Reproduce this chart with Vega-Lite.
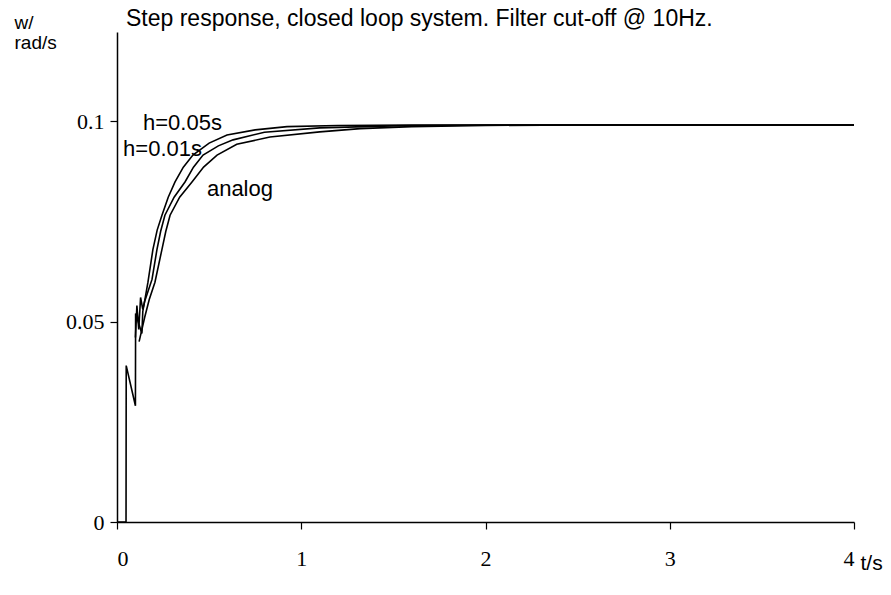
{
  "$schema": "https://vega.github.io/schema/vega-lite/v6.json",
  "autosize": {"type": "none"},
  "width": 737,
  "height": 490,
  "padding": {"left": 117, "top": 32, "right": 37, "bottom": 73},
  "background": "white",
  "title": {
    "text": "Step response, closed loop system. Filter cut-off @ 10Hz.",
    "anchor": "start",
    "frame": "group",
    "dx": 9,
    "offset": -18,
    "font": "Liberation Sans",
    "fontSize": 23,
    "fontWeight": "normal",
    "color": "black"
  },
  "config": {
    "view": {"stroke": null},
    "axis": {"grid": false, "domainColor": "black", "tickColor": "black", "labelColor": "black", "titleColor": "black", "domainWidth": 1.5, "tickWidth": 1.2, "tickSize": 7}
  },
  "datasets": {
    "curves": [
      {"series": "h=0.05s", "i": 0, "t": 0, "w": 0},
      {"series": "h=0.05s", "i": 1, "t": 0.049, "w": 0},
      {"series": "h=0.05s", "i": 2, "t": 0.05, "w": 0.039},
      {"series": "h=0.05s", "i": 3, "t": 0.1, "w": 0.029},
      {"series": "h=0.05s", "i": 4, "t": 0.101, "w": 0.052},
      {"series": "h=0.05s", "i": 5, "t": 0.135, "w": 0.047},
      {"series": "h=0.05s", "i": 6, "t": 0.14, "w": 0.0525},
      {"series": "h=0.05s", "i": 7, "t": 0.168, "w": 0.0598},
      {"series": "h=0.05s", "i": 8, "t": 0.195, "w": 0.068},
      {"series": "h=0.05s", "i": 9, "t": 0.218, "w": 0.0728},
      {"series": "h=0.05s", "i": 10, "t": 0.244, "w": 0.0765},
      {"series": "h=0.05s", "i": 11, "t": 0.278, "w": 0.081},
      {"series": "h=0.05s", "i": 12, "t": 0.315, "w": 0.0848},
      {"series": "h=0.05s", "i": 13, "t": 0.36, "w": 0.0885},
      {"series": "h=0.05s", "i": 14, "t": 0.412, "w": 0.0915},
      {"series": "h=0.05s", "i": 15, "t": 0.5, "w": 0.0945},
      {"series": "h=0.05s", "i": 16, "t": 0.597, "w": 0.0965},
      {"series": "h=0.05s", "i": 17, "t": 0.75, "w": 0.0978},
      {"series": "h=0.05s", "i": 18, "t": 0.923, "w": 0.0986},
      {"series": "h=0.05s", "i": 19, "t": 1.2, "w": 0.0989},
      {"series": "h=0.05s", "i": 20, "t": 1.6, "w": 0.099},
      {"series": "h=0.05s", "i": 21, "t": 4, "w": 0.099},
      {"series": "h=0.01s", "i": 0, "t": 0.1, "w": 0.046},
      {"series": "h=0.01s", "i": 1, "t": 0.108, "w": 0.054},
      {"series": "h=0.01s", "i": 2, "t": 0.118, "w": 0.048},
      {"series": "h=0.01s", "i": 3, "t": 0.128, "w": 0.056},
      {"series": "h=0.01s", "i": 4, "t": 0.14, "w": 0.053},
      {"series": "h=0.01s", "i": 5, "t": 0.15, "w": 0.055},
      {"series": "h=0.01s", "i": 6, "t": 0.19, "w": 0.0605},
      {"series": "h=0.01s", "i": 7, "t": 0.217, "w": 0.068},
      {"series": "h=0.01s", "i": 8, "t": 0.237, "w": 0.0725},
      {"series": "h=0.01s", "i": 9, "t": 0.26, "w": 0.0765},
      {"series": "h=0.01s", "i": 10, "t": 0.31, "w": 0.081},
      {"series": "h=0.01s", "i": 11, "t": 0.369, "w": 0.0848},
      {"series": "h=0.01s", "i": 12, "t": 0.415, "w": 0.0885},
      {"series": "h=0.01s", "i": 13, "t": 0.467, "w": 0.0915},
      {"series": "h=0.01s", "i": 14, "t": 0.55, "w": 0.0938},
      {"series": "h=0.01s", "i": 15, "t": 0.63, "w": 0.0953},
      {"series": "h=0.01s", "i": 16, "t": 0.8, "w": 0.0972},
      {"series": "h=0.01s", "i": 17, "t": 1.1, "w": 0.0983},
      {"series": "h=0.01s", "i": 18, "t": 1.5, "w": 0.0988},
      {"series": "h=0.01s", "i": 19, "t": 2, "w": 0.099},
      {"series": "h=0.01s", "i": 20, "t": 4, "w": 0.099},
      {"series": "analog", "i": 0, "t": 0.12, "w": 0.045},
      {"series": "analog", "i": 1, "t": 0.15, "w": 0.051},
      {"series": "analog", "i": 2, "t": 0.175, "w": 0.0555},
      {"series": "analog", "i": 3, "t": 0.206, "w": 0.0598},
      {"series": "analog", "i": 4, "t": 0.244, "w": 0.068},
      {"series": "analog", "i": 5, "t": 0.265, "w": 0.0725},
      {"series": "analog", "i": 6, "t": 0.288, "w": 0.0765},
      {"series": "analog", "i": 7, "t": 0.34, "w": 0.081},
      {"series": "analog", "i": 8, "t": 0.407, "w": 0.0848},
      {"series": "analog", "i": 9, "t": 0.47, "w": 0.0885},
      {"series": "analog", "i": 10, "t": 0.543, "w": 0.0915},
      {"series": "analog", "i": 11, "t": 0.65, "w": 0.0942},
      {"series": "analog", "i": 12, "t": 0.83, "w": 0.096},
      {"series": "analog", "i": 13, "t": 1.1, "w": 0.0973},
      {"series": "analog", "i": 14, "t": 1.32, "w": 0.0981},
      {"series": "analog", "i": 15, "t": 1.6, "w": 0.0986},
      {"series": "analog", "i": 16, "t": 2, "w": 0.0989},
      {"series": "analog", "i": 17, "t": 2.5, "w": 0.099},
      {"series": "analog", "i": 18, "t": 4, "w": 0.099}
    ],
    "labels": [
      {"t": 0.141, "w": 0.0978, "label": "h=0.05s"},
      {"t": 0.033, "w": 0.0913, "label": "h=0.01s"},
      {"t": 0.488, "w": 0.0813, "label": "analog"}
    ]
  },
  "layer": [
    {
      "data": {"name": "curves"},
      "mark": {"type": "line", "color": "black", "strokeWidth": 1.6},
      "encoding": {
        "x": {
          "field": "t", "type": "quantitative",
          "scale": {"domain": [0, 4], "nice": false, "zero": false},
          "axis": {
            "values": [0, 1, 2, 3, 4],
            "format": "d",
            "labelFont": "Liberation Serif", "labelFontSize": 22, "labelPadding": 19,
            "title": "t/s", "titleFont": "Liberation Sans", "titleFontSize": 21, "titleFontWeight": "normal",
            "titleAlign": "left", "titleAnchor": "start", "titleBaseline": "alphabetic", "titleX": 743, "titleY": 47
          }
        },
        "y": {
          "field": "w", "type": "quantitative",
          "scale": {"domain": [0, 0.1222], "nice": false},
          "axis": {
            "values": [0, 0.05, 0.1],
            "labelExpr": "datum.value == 0 ? '0' : datum.value == 0.05 ? '0.05' : '0.1'",
            "labelFont": "Liberation Serif", "labelFontSize": 22, "labelPadding": 6,
            "title": ["w/", "rad/s"], "titleFont": "Liberation Sans", "titleFontSize": 19, "titleFontWeight": "normal",
            "titleAngle": 0, "titleAlign": "left", "titleAnchor": "start", "titleBaseline": "alphabetic",
            "titleX": -103, "titleY": -4, "titleLineHeight": 20
          }
        },
        "detail": {"field": "series"},
        "order": {"field": "i", "type": "quantitative"}
      }
    },
    {
      "data": {"name": "labels"},
      "mark": {"type": "text", "align": "left", "baseline": "alphabetic", "font": "Liberation Sans", "fontSize": 22, "color": "black"},
      "encoding": {
        "x": {"field": "t", "type": "quantitative"},
        "y": {"field": "w", "type": "quantitative"},
        "text": {"field": "label"}
      }
    }
  ]
}
